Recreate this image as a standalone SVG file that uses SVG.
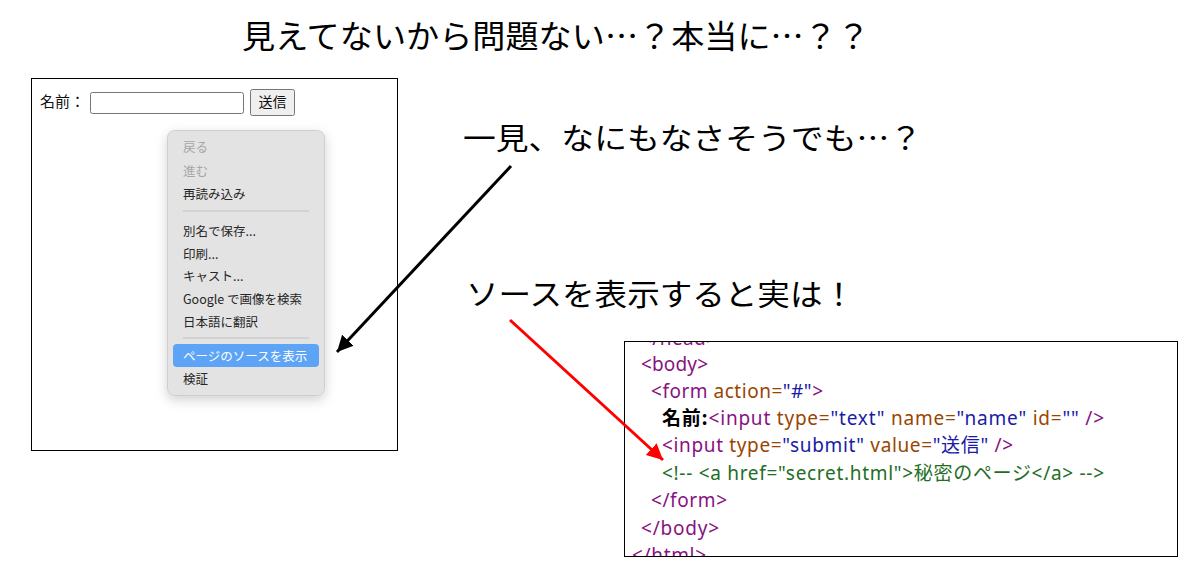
<svg xmlns="http://www.w3.org/2000/svg" width="1188" height="567" viewBox="0 0 1188 567">
<style>
.jp{font-family:"Noto Sans CJK JP","Noto Sans",sans-serif;}
.big{font-size:30px;fill:#000;}
.ui{font-size:15px;fill:#111;}
.mi{font-size:12.5px;fill:#262626;}
.dis{fill:#a6a6a6;}
.code{font-family:"Noto Sans","Noto Sans CJK JP",sans-serif;font-size:19px;}
.tg{fill:#881280;}
.at{fill:#994500;}
.va{fill:#1a1aa6;}
.cm{fill:#236e25;}
.tx{fill:#000;}
.frame{fill:#fff;stroke:#000;stroke-width:1;}
</style>
<defs>
<filter id="sh" x="-30%" y="-20%" width="160%" height="150%">
<feDropShadow dx="0" dy="4" stdDeviation="6" flood-color="#000" flood-opacity="0.18"/>
</filter>
<marker id="ahB" markerUnits="userSpaceOnUse" markerWidth="20" markerHeight="20" refX="16" refY="8" orient="auto">
<path d="M0,0 L16,8 L0,16 Z" fill="#000"/>
</marker>
<marker id="ahR" markerUnits="userSpaceOnUse" markerWidth="20" markerHeight="20" refX="16" refY="8" orient="auto">
<path d="M0,0 L16,8 L0,16 Z" fill="#ff0000"/>
</marker>
<clipPath id="codeClip"><rect x="625" y="342" width="552" height="214"/></clipPath>
</defs>
<rect width="1188" height="567" fill="#fff"/>

<g id="title">
<text class="jp big" x="242" y="48" textLength="628" lengthAdjust="spacingAndGlyphs" style="font-size:32px">見えてないから問題ない…？本当に…？？</text>
</g>

<g id="browser">
<rect class="frame" x="31.5" y="78.5" width="366" height="372"/>
<text class="jp ui" x="40" y="107">名前：</text>
<rect x="90.5" y="92.5" width="153" height="21" rx="2" fill="#fff" stroke="#767676"/>
<rect x="250.5" y="89.5" width="44" height="26" rx="2" fill="#efefef" stroke="#767676"/>
<text class="jp ui" x="272.5" y="107" text-anchor="middle" style="font-size:14px">送信</text>
<g id="context-menu">
<rect x="167.5" y="130.5" width="157" height="265" rx="7" fill="#e4e3e4" stroke="#cfcfcf" filter="url(#sh)"/>
<text class="jp mi dis" x="183" y="152">戻る</text>
<text class="jp mi dis" x="183" y="176">進む</text>
<text class="jp mi" x="183" y="199">再読み込み</text>
<line x1="183" y1="211" x2="309" y2="211" stroke="#cdcdcd" stroke-width="1.5"/>
<text class="jp mi" x="183" y="236">別名で保存...</text>
<text class="jp mi" x="183" y="259">印刷...</text>
<text class="jp mi" x="183" y="281">キャスト...</text>
<text class="jp mi" x="183" y="304">Google で画像を検索</text>
<text class="jp mi" x="183" y="327">日本語に翻訳</text>
<line x1="183" y1="338" x2="309" y2="338" stroke="#cdcdcd" stroke-width="1.5"/>
<rect x="173" y="344" width="146" height="23" rx="4" fill="#5ea4f6"/>
<text class="jp mi" x="183" y="361" style="fill:#fff">ページのソースを表示</text>
<text class="jp mi" x="183" y="384">検証</text>
</g>
</g>

<g id="label-glance">
<text class="jp big" x="463" y="149" textLength="459" lengthAdjust="spacingAndGlyphs">一見、なにもなさそうでも…？</text>
</g>

<g id="label-source">
<text class="jp big" x="466" y="305" textLength="389" lengthAdjust="spacingAndGlyphs">ソースを表示すると実は！</text>
</g>

<g id="source-view">
<rect class="frame" x="624.5" y="341.5" width="553" height="215"/>
<g clip-path="url(#codeClip)" class="code">
<text x="641" y="345" textLength="76" lengthAdjust="spacing"><tspan class="tg">&lt;/head&gt;</tspan></text>
<text x="641" y="371" textLength="67" lengthAdjust="spacing"><tspan class="tg">&lt;body&gt;</tspan></text>
<text x="651" y="398" textLength="172" lengthAdjust="spacing"><tspan class="tg">&lt;form </tspan><tspan class="at">action=</tspan><tspan class="va">"#"</tspan><tspan class="tg">&gt;</tspan></text>
<text x="662" y="425" textLength="442" lengthAdjust="spacing"><tspan class="tx" style="font-family:'Noto Sans CJK JP',sans-serif;font-weight:bold">名前:</tspan><tspan class="tg">&lt;input </tspan><tspan class="at">type=</tspan><tspan class="va">"text"</tspan><tspan class="at"> name=</tspan><tspan class="va">"name"</tspan><tspan class="at"> id=</tspan><tspan class="va">""</tspan><tspan class="tg"> /&gt;</tspan></text>
<text x="662" y="452" textLength="351" lengthAdjust="spacing"><tspan class="tg">&lt;input </tspan><tspan class="at">type=</tspan><tspan class="va">"submit"</tspan><tspan class="at"> value=</tspan><tspan class="va">"送信"</tspan><tspan class="tg"> /&gt;</tspan></text>
<text x="662" y="480" textLength="442" lengthAdjust="spacing" class="cm">&lt;!-- &lt;a href="secret.html"&gt;秘密のページ&lt;/a&gt; --&gt;</text>
<text x="651" y="507" textLength="76" lengthAdjust="spacing"><tspan class="tg">&lt;/form&gt;</tspan></text>
<text x="641" y="535" textLength="78" lengthAdjust="spacing"><tspan class="tg">&lt;/body&gt;</tspan></text>
<text x="632" y="562" textLength="74" lengthAdjust="spacing"><tspan class="tg">&lt;/html&gt;</tspan></text>
</g>
</g>

<g id="connectors">
<line x1="511" y1="166" x2="337" y2="352" stroke="#000" stroke-width="3" marker-end="url(#ahB)"/>
<line x1="510" y1="320" x2="663" y2="460" stroke="#ff0000" stroke-width="3" marker-end="url(#ahR)"/>
</g>
</svg>
